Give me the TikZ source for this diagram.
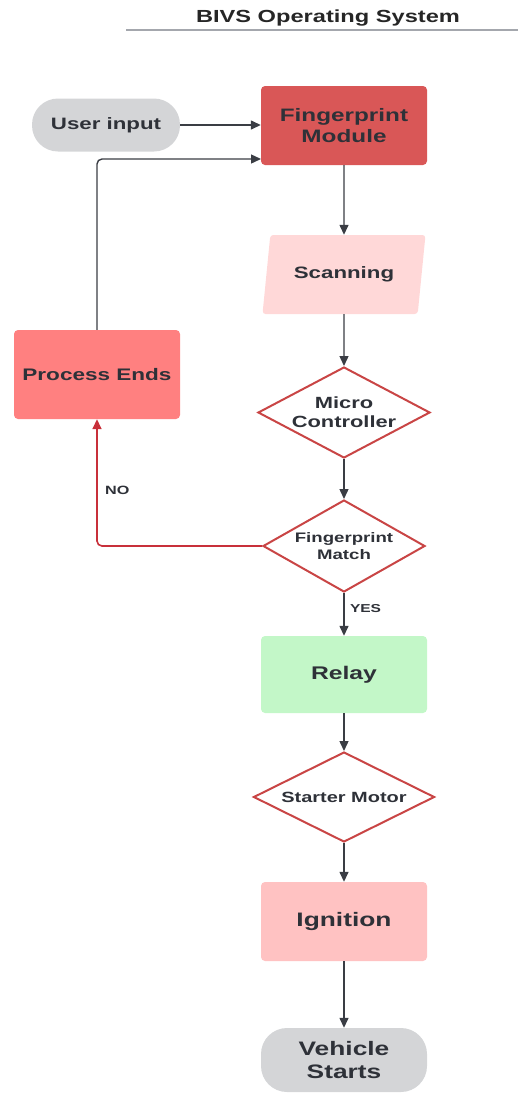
\documentclass[tikz,border=0pt]{standalone}
\usepackage{fontspec}
\setmainfont{Liberation Sans}[FakeStretch=1.35]
\usetikzlibrary{shapes.geometric,arrows.meta}
\definecolor{txt}{HTML}{2E3138}
\definecolor{grayfill}{HTML}{D4D5D7}
\definecolor{fpred}{HTML}{D95757}
\definecolor{scanpink}{HTML}{FFD8D8}
\definecolor{endred}{HTML}{FF8080}
\definecolor{relaygreen}{HTML}{C3F7C8}
\definecolor{ignpink}{HTML}{FFC2C2}
\definecolor{dred}{HTML}{C94545}
\definecolor{nored}{HTML}{C8303A}
\definecolor{linegray}{HTML}{3A3D44}
\definecolor{rulegray}{HTML}{A4A7AD}
\newcommand{\fs}[1]{\bfseries\fontsize{#1}{1.17\dimexpr #1pt\relax}\selectfont}
\tikzset{
  every node/.style={font=\bfseries, text=txt, align=center},
  box/.style={rectangle, rounded corners=4pt, minimum width=166pt, minimum height=79pt, inner sep=0pt},
  term/.style={rectangle, rounded corners=26pt, fill=grayfill, inner sep=0pt},
  dec/.style={diamond, draw=dred, line width=2pt, fill=white, inner sep=0pt, minimum width=172pt, minimum height=91pt},
  conn/.style={draw=linegray, line width=1.4pt, -{Triangle[length=10pt,width=9pt]}},
  noconn/.style={draw=nored, line width=1.6pt, -{Triangle[length=10pt,width=9pt]}, rounded corners=5pt},
}
\begin{document}
\begin{tikzpicture}[x=1pt,y=-1pt]
\useasboundingbox (0,0) rectangle (518,1093);
% title
\node[font=\fs{17.5}, text=black!85] (title) at (328,18) {BIVS Operating System};
\draw[rulegray, line width=1.2pt] (126,30) -- (518,30);
% nodes
\node[term, minimum width=148pt, minimum height=53pt, font=\fs{16.5}] (user) at (106,125) {User input};
\node[box, fill=fpred, font=\fs{18}] (fm) at (344,125.5) {Fingerprint\\Module};
\node[trapezium, trapezium left angle=71, trapezium right angle=109, trapezium stretches=true, fill=scanpink, rounded corners=3pt, minimum width=163pt, minimum height=79pt, inner sep=0pt, font=\fs{16.5}] (scan) at (344,274.5) {Scanning};
\node[dec, label={[font=\fs{16.2}]center:Micro\\Controller}] (mc) at (344,412.5) {};
\node[dec, minimum width=162pt, minimum height=92pt, label={[font=\fs{13.8}]center:Fingerprint\\Match}] (match) at (344,546) {};
\node[box, fill=endred, minimum height=89pt, font=\fs{16.7}] (pend) at (97,374.5) {Process Ends};
\node[box, fill=relaygreen, minimum height=77pt, font=\fs{18.3}] (relay) at (344,674.5) {Relay};
\node[dec, minimum width=181pt, minimum height=90pt, label={[font=\fs{14.8}]center:Starter Motor}] (motor) at (344,797) {};
\node[box, fill=ignpink, font=\fs{19.5}] (ign) at (344,921.5) {Ignition};
\node[term, minimum width=166pt, minimum height=64pt, font=\fs{19.5}] (veh) at (344,1060) {Vehicle\\Starts};
% connectors
\coordinate (fmin2) at (261,159);
\draw[conn] (user.east) -- (user.east -| fm.west);
\draw[conn, rounded corners=5pt] (pend.north) |- (fmin2);
\draw[conn] (fm.south) -- (scan.north);
\draw[conn] (scan.south) -- (mc.north);
\draw[conn] (mc.south) -- (match.north);
\draw[noconn] (match.west) -| (pend.south) node[pos=0.72, right=4pt, font=\fs{12}] (no) {NO};
\draw[conn] (match.south) -- (relay.north) node[pos=0.36, right=2pt, font=\fs{11.5}] (yes) {YES};
\draw[conn] (relay.south) -- (motor.north);
\draw[conn] (motor.south) -- (ign.north);
\draw[conn] (ign.south) -- (veh.north);
\end{tikzpicture}
\end{document}
